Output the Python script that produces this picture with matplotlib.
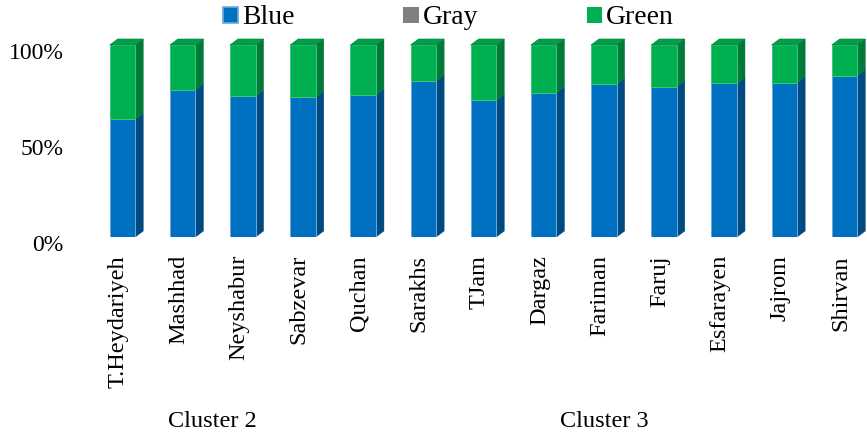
import numpy as np
import matplotlib
matplotlib.use("Agg")
import matplotlib.pyplot as plt
from matplotlib.patches import Polygon, Patch
import matplotlib.transforms as mtransforms

plt.rcParams['font.family'] = ['Liberation Serif', 'DejaVu Serif']

# Share of each class per city (percent)
cities = ['T.Heydariyeh', 'Mashhad', 'Neyshabur', 'Sabzevar', 'Quchan', 'Sarakhs',
          'TJam', 'Dargaz', 'Fariman', 'Faruj', 'Esfarayen', 'Jajrom', 'Shirvan']
blue = [61.3, 76.6, 73.4, 72.9, 74.0, 81.3, 71.2, 75.2, 79.5, 78.3, 80.0, 80.4, 84.0]
gray = [0, 0, 0, 0, 0, 0, 0, 0, 0, 0, 0, 0, 0]
green = [100 - b - g for b, g in zip(blue, gray)]
cluster_names = ['Cluster 2', 'Cluster 3']
cluster_members = [[0, 1, 2, 3], [4, 5, 6, 7, 8, 9, 10, 11, 12]]

# face colours: front, side, top
c_blue = ('#0070C0', '#004A82', '#0062A8')
c_gray = ('#808080', '#5A5A5A', '#707070')
c_green = ('#00B050', '#007A38', '#00A048')

W, H = 867, 436
fig = plt.figure(figsize=(W / 100, H / 100), dpi=100)
ax_left, ax_right, ax_top, ax_bot = 95.4, 865.6, 35.4, 237.0
ax = fig.add_axes([ax_left / W, (H - ax_bot) / H,
                   (ax_right - ax_left) / W, (ax_bot - ax_top) / H])
xmin, xmax, ymin, ymax = -0.45, 12.35, 0, 105
ax.set_xlim(xmin, xmax)
ax.set_ylim(ymin, ymax)

# depth of the extruded faces, in pixels -> data units
px_x = (ax_right - ax_left) / (xmax - xmin)
px_y = (ax_bot - ax_top) / (ymax - ymin)
dx = 8 / px_x
dy = 6 / px_y
bw = 25.6 / px_x

x = np.arange(len(cities))
bottoms = np.zeros(len(cities))
for vals, cols, ec in [(blue, c_blue, '#6FA8DC'), (gray, c_gray, 'none'),
                       (green, c_green, '#3CC77A')]:
    vals = np.array(vals, dtype=float)
    ax.bar(x, vals, bw, bottom=bottoms, color=cols[0], edgecolor=ec,
           linewidth=0.7, zorder=3)
    for xi, b0, v in zip(x, bottoms, vals):
        if v <= 0:
            continue
        xr = xi + bw / 2
        side = [(xr, b0), (xr + dx, b0 + dy), (xr + dx, b0 + v + dy), (xr, b0 + v)]
        ax.add_patch(Polygon(side, closed=True, facecolor=cols[1],
                             edgecolor=cols[1], linewidth=0.3, zorder=2,
                             clip_on=False))
    bottoms = bottoms + vals

# top lid of each column
for xi, top in zip(x, bottoms):
    xl, xr = xi - bw / 2, xi + bw / 2
    lid = [(xl, top), (xl + dx, top + dy), (xr + dx, top + dy), (xr, top)]
    ax.add_patch(Polygon(lid, closed=True, facecolor=c_green[2],
                         edgecolor=c_green[1], linewidth=0.4, zorder=4,
                         clip_on=False))

for s in ax.spines.values():
    s.set_visible(False)

ax.set_yticks([0, 50, 100])
ax.set_yticklabels(['0%', '50%', '100%'])
ax.tick_params(axis='y', length=0, pad=23, labelsize=17)
shift = mtransforms.ScaledTranslation(0, -6 / 100, fig.dpi_scale_trans)
for lab in ax.get_yticklabels():
    lab.set_transform(lab.get_transform() + shift)

ax.set_xticks(x)
ax.set_xticklabels(cities, rotation=90)
ax.tick_params(axis='x', length=0, pad=13, labelsize=17.5)
xshift = mtransforms.ScaledTranslation(-4 / 100, 0, fig.dpi_scale_trans)
for lab in ax.get_xticklabels():
    lab.set_transform(lab.get_transform() + xshift)

# cluster names under the city labels
trans = mtransforms.blended_transform_factory(ax.transData, fig.transFigure)
for name, members in zip(cluster_names, cluster_members):
    ax.text(np.mean(members), (H - 421) / H, name, transform=trans,
            ha='center', va='center', fontsize=17.5)

handles = [Patch(facecolor=c_blue[0], edgecolor='#6FA8DC', linewidth=1.2),
           Patch(facecolor=c_gray[0], edgecolor='none'),
           Patch(facecolor=c_green[0], edgecolor='none')]
fig.legend(handles, ['Blue', 'Gray', 'Green'], loc='center left',
           bbox_to_anchor=(223 / W, (H - 18) / H), ncol=3, frameon=False,
           fontsize=20, handlelength=0.55, handleheight=0.5,
           handletextpad=0.15, columnspacing=3.9, borderpad=0,
           borderaxespad=0)

fig.savefig('out.png', dpi=100)
